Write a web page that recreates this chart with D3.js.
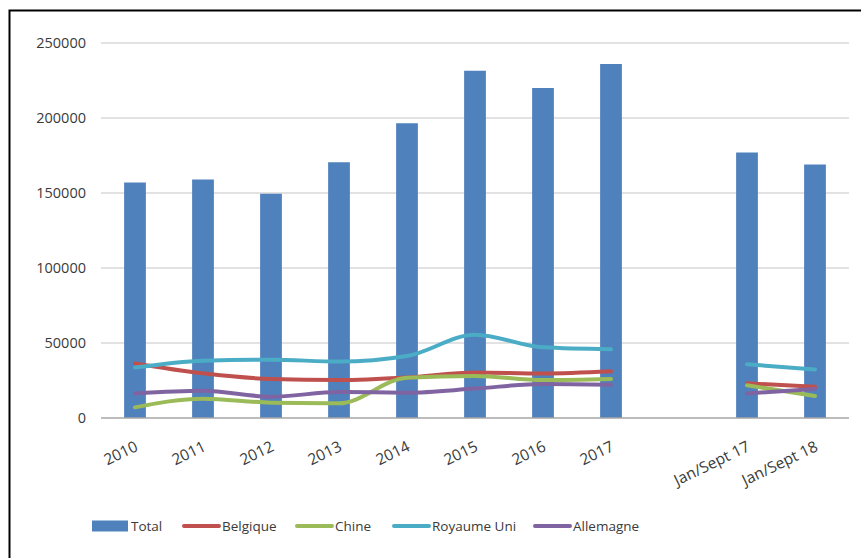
<!DOCTYPE html>
<html><head><meta charset="utf-8">
<script src="https://cdn.jsdelivr.net/npm/d3@7"></script>
<style>body{margin:0;background:#fff}svg{display:block}text{font-family:"Open Sans","Noto Sans",sans-serif;fill:#3a3a3a}</style>
</head><body><svg id="c" width="861" height="558"></svg>
<script>
const categories = ["2010","2011","2012","2013","2014","2015","2016","2017","","Jan/Sept 17","Jan/Sept 18"];
const total     = [157000,159000,149500,170500,196500,231500,220000,236000,null,177000,169000];
const belgique  = [36400,29800,26000,25300,27000,30400,29600,31100,null,23100,20900];
const chine     = [7100,12900,10200,9800,26900,28000,25300,26000,null,21800,14700];
const royaumeUni= [33600,38200,38900,37600,41300,55500,47100,45800,null,35800,32400];
const allemagne = [16400,18200,14200,17300,16900,19600,22700,22200,null,16400,19300];
const yTicks = [0,50000,100000,150000,200000,250000];
const lineSeries = [
  {name:"Belgique", values:belgique, color:"#c0504d"},
  {name:"Chine", values:chine, color:"#9bbb59"},
  {name:"Royaume Uni", values:royaumeUni, color:"#4bacc6"},
  {name:"Allemagne", values:allemagne, color:"#8064a2"}
];
const barColor = "#4f81bd";

const svg = d3.select("#c");
// frame
svg.append("rect").attr("x",9.5).attr("y",10.5).attr("width",900).attr("height",600)
  .attr("fill","none").attr("stroke","#000").attr("stroke-width",2);

const x = d3.scaleBand().domain(d3.range(categories.length)).range([101,849]).paddingInner(0.68).paddingOuter(0.34);
const y = d3.scaleLinear().domain([0,250000]).range([418,43]);

// gridlines
svg.append("g").selectAll("line").data(yTicks.filter(d=>d>0)).join("line")
  .attr("x1",101).attr("x2",849).attr("y1",d=>y(d)).attr("y2",d=>y(d))
  .attr("stroke","#d9d9d9").attr("stroke-width",1.3);

// y axis labels
const yAxis = d3.axisLeft(y).tickValues(yTicks).tickSize(0).tickPadding(0).tickFormat(d3.format("d"));
const ga = svg.append("g").attr("transform","translate(86,0)").call(yAxis);
ga.select(".domain").remove();
ga.selectAll("text").attr("font-size","14.5px").style("font-family","'Open Sans',sans-serif").attr("fill","#3a3a3a");

// bars
svg.append("g").selectAll("rect").data(total.map((v,i)=>({v,i})).filter(d=>d.v!=null)).join("rect")
  .attr("x",d=>x(d.i)).attr("width",x.bandwidth())
  .attr("y",d=>y(d.v)).attr("height",d=>y(0)-y(d.v))
  .attr("fill",barColor);

// baseline
svg.append("line").attr("x1",101).attr("x2",849).attr("y1",y(0)).attr("y2",y(0))
  .attr("stroke","#a6a6a6").attr("stroke-width",1.3);

// lines
const cx = i => x(i)+x.bandwidth()/2;
const line = d3.line().defined(d=>d.v!=null).x(d=>cx(d.i)).y(d=>y(d.v)).curve(d3.curveMonotoneX);
lineSeries.forEach(s=>{
  svg.append("path").datum(s.values.map((v,i)=>({v,i})))
    .attr("d",line).attr("fill","none").attr("stroke",s.color)
    .attr("stroke-width",4).attr("stroke-linecap","round").attr("stroke-linejoin","round");
});

// x labels
const xAxis = d3.axisBottom(x).tickSize(0).tickFormat(i=>categories[i]);
const gx = svg.append("g").attr("transform","translate(0,"+y(0)+")").call(xAxis);
gx.select(".domain").remove();
gx.selectAll("text").attr("font-size","15.5px").attr("text-anchor","end")
  .attr("dy",0).attr("y",0).attr("fill","#3a3a3a")
  .attr("transform","translate(4,32) rotate(-26)");

// legend
const leg = svg.append("g").attr("transform","translate(0,526)");
const items = [{name:"Total",type:"bar",color:barColor,x:92}].concat(
  lineSeries.map((s,k)=>({name:s.name,type:"line",color:s.color,x:[183,296,393,534][k]})));
items.forEach(it=>{
  if(it.type==="bar") leg.append("rect").attr("x",it.x).attr("y",-5.5).attr("width",36).attr("height",11).attr("fill",it.color);
  else leg.append("line").attr("x1",it.x+1).attr("x2",it.x+36).attr("y1",0).attr("y2",0).attr("stroke",it.color).attr("stroke-width",4).attr("stroke-linecap","round");
  leg.append("text").attr("x",it.x+39).attr("y",0).attr("dy","0.35em").attr("font-size","13.5px").text(it.name);
});
</script></body></html>
